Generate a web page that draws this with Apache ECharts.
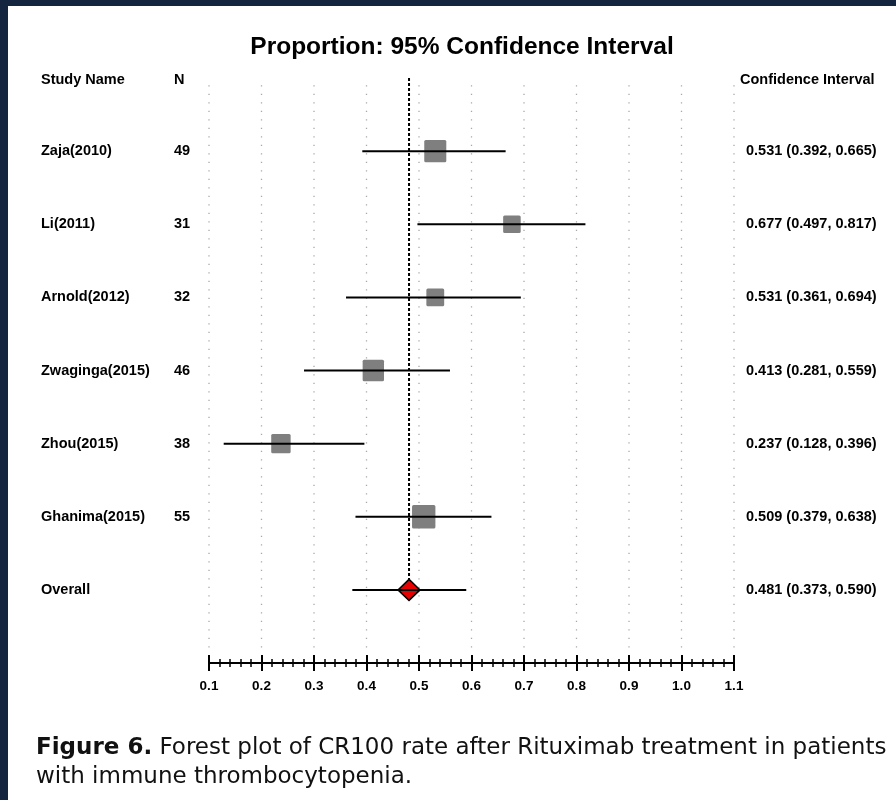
<!DOCTYPE html>
<html><head><meta charset="utf-8">
<script src="https://cdn.jsdelivr.net/npm/echarts@6/dist/echarts.min.js"></script>
<style>html,body{margin:0;padding:0;background:#fff}#c{width:896px;height:800px}</style>
</head><body><div id="c"></div>
<script>
var studies = ["Zaja(2010)", "Li(2011)", "Arnold(2012)", "Zwaginga(2015)", "Zhou(2015)", "Ghanima(2015)"];
var sampleN = [49, 31, 32, 46, 38, 55];
var estimate = [0.531, 0.677, 0.531, 0.413, 0.237, 0.509];
var lower = [0.392, 0.497, 0.361, 0.281, 0.128, 0.379];
var upper = [0.665, 0.817, 0.694, 0.559, 0.396, 0.638];
var overallName = "Overall";
var overallEst = 0.481, overallLo = 0.373, overallHi = 0.590;
var gridTicks = [0.1, 0.2, 0.3, 0.4, 0.5, 0.6, 0.7, 0.8, 0.9, 1.0, 1.1];

var FONT = "'Liberation Sans', Arial, sans-serif";
var CAPFONT = "'DejaVu Sans', sans-serif";
var chart = echarts.init(document.getElementById('c'), null, {renderer: 'canvas'});

var rowData = studies.map(function (s, i) {
  return [i, estimate[i], lower[i], upper[i], sampleN[i], s];
});

function ciText(e, l, h) {
  return e.toFixed(3) + ' (' + l.toFixed(3) + ', ' + h.toFixed(3) + ')';
}
function txt(x, y, s) {
  return {type: 'text', x: x, y: y, style: {text: s, font: 'bold 14.5px ' + FONT, fill: '#000', textVerticalAlign: 'middle', textAlign: 'left'}};
}

var option = {
  animation: false,
  backgroundColor: '#fff',
  grid: {left: 209, right: 162, top: 78, bottom: 137},
  xAxis: [{
    type: 'value', min: 0.1, max: 1.1, interval: 0.1, position: 'bottom',
    axisLine: {show: true, onZero: false, lineStyle: {color: '#000', width: 2}},
    axisTick: {show: true, length: 8, lineStyle: {color: '#000', width: 2}},
    minorTick: {show: true, splitNumber: 5, length: 4, lineStyle: {color: '#000', width: 1.5}},
    splitLine: {show: false},
    axisLabel: {margin: 16, color: '#000', fontFamily: FONT, fontWeight: 'bold', fontSize: 13.5,
      formatter: function (v) { return (+v).toFixed(1); }}
  }, {
    type: 'value', min: 0.1, max: 1.1, interval: 0.1, position: 'bottom',
    axisLine: {show: true, onZero: false, lineStyle: {color: '#000', width: 2}},
    axisTick: {show: true, inside: true, length: 8, lineStyle: {color: '#000', width: 2}},
    minorTick: {show: true, splitNumber: 5, length: 4, lineStyle: {color: '#000', width: 1.5}},
    splitLine: {show: false}, axisLabel: {show: false}
  }],
  yAxis: {type: 'value', inverse: true, min: -1, max: 7, show: false, splitLine: {show: false}},
  series: [
    { // dotted gridlines
      type: 'custom', coordinateSystem: 'cartesian2d', silent: true, z: 1,
      data: gridTicks.map(function (t) { return [t]; }),
      renderItem: function (params, api) {
        var p1 = api.coord([api.value(0), -0.9]);
        var p2 = api.coord([api.value(0), 6.85]);
        return {type: 'line', shape: {x1: p1[0], y1: p1[1], x2: p2[0], y2: p2[1]},
          style: {stroke: '#a8a8a8', lineWidth: 1.3, lineDash: [1.3, 7.2]}};
      }
    },
    { // overall dashed reference line
      type: 'custom', coordinateSystem: 'cartesian2d', silent: true, z: 2,
      data: [[overallEst]],
      renderItem: function (params, api) {
        var p1 = api.coord([api.value(0), -1]);
        var p2 = api.coord([api.value(0), studies.length]);
        return {type: 'line', shape: {x1: p1[0], y1: p1[1], x2: p2[0], y2: p2[1]},
          style: {stroke: '#000', lineWidth: 2, lineDash: [3, 2]}};
      }
    },
    { // study rows
      type: 'custom', coordinateSystem: 'cartesian2d', silent: true, z: 3,
      data: rowData,
      encode: {x: [1, 2, 3], y: 0},
      renderItem: function (params, api) {
        var i = api.value(0), e = api.value(1), l = api.value(2), h = api.value(3), n = api.value(4);
        var pc = api.coord([e, i]), pl = api.coord([l, i]), ph = api.coord([h, i]);
        var sz = 3.15 * Math.sqrt(n);
        return {type: 'group', children: [
          {type: 'rect', shape: {x: pc[0] - sz / 2, y: pc[1] - sz / 2, width: sz, height: sz, r: 1.5},
            style: {fill: '#7f7f7f'}},
          {type: 'line', shape: {x1: pl[0], y1: pl[1], x2: ph[0], y2: ph[1]}, style: {stroke: '#000', lineWidth: 2}},
          txt(41, pc[1], studies[params.dataIndex]),
          txt(174, pc[1], String(n)),
          txt(746, pc[1], ciText(e, l, h))
        ]};
      }
    },
    { // overall diamond
      type: 'custom', coordinateSystem: 'cartesian2d', silent: true, z: 4,
      data: [[studies.length, overallEst, overallLo, overallHi]],
      encode: {x: [1, 2, 3], y: 0},
      renderItem: function (params, api) {
        var i = api.value(0), e = api.value(1), l = api.value(2), h = api.value(3);
        var pc = api.coord([e, i]), pl = api.coord([l, i]), ph = api.coord([h, i]);
        var hw = 11, hh = 10.5;
        return {type: 'group', children: [
          {type: 'polygon', shape: {points: [[pc[0], pc[1] - hh], [pc[0] + hw, pc[1]], [pc[0], pc[1] + hh], [pc[0] - hw, pc[1]]]},
            style: {fill: '#e60000', stroke: '#000', lineWidth: 1.5}},
          {type: 'line', shape: {x1: pl[0], y1: pl[1], x2: ph[0], y2: ph[1]}, style: {stroke: '#000', lineWidth: 2}},
          txt(41, pc[1], overallName),
          txt(746, pc[1], ciText(e, l, h))
        ]};
      }
    }
  ],
  graphic: [
    {type: 'rect', left: 0, top: 0, shape: {width: 896, height: 6}, style: {fill: '#13253f'}, z: 100},
    {type: 'rect', left: 0, top: 0, shape: {width: 8, height: 800}, style: {fill: '#13253f'}, z: 100},
    {type: 'text', x: 462, y: 47, style: {text: 'Proportion: 95% Confidence Interval', font: 'bold 24.5px ' + FONT, fill: '#000', textAlign: 'center', textVerticalAlign: 'middle'}},
    {type: 'text', x: 41, y: 80, style: {text: 'Study Name', font: 'bold 14.5px ' + FONT, fill: '#000', textVerticalAlign: 'middle'}},
    {type: 'text', x: 174, y: 80, style: {text: 'N', font: 'bold 14.5px ' + FONT, fill: '#000', textVerticalAlign: 'middle'}},
    {type: 'text', x: 740, y: 80, style: {text: 'Confidence Interval', font: 'bold 14.5px ' + FONT, fill: '#000', textVerticalAlign: 'middle'}},
    {type: 'text', x: 36, y: 748, style: {
      text: '{b|Figure 6.} Forest plot of CR100 rate after Rituximab treatment in patients',
      font: '23px ' + CAPFONT, fill: '#111', textVerticalAlign: 'middle',
      rich: {b: {fontWeight: 'bold', fontSize: 23, fontFamily: CAPFONT, fill: '#111'}}}},
    {type: 'text', x: 36, y: 777, style: {text: 'with immune thrombocytopenia.', font: '23px ' + CAPFONT, fill: '#111', textVerticalAlign: 'middle'}}
  ]
};
chart.setOption(option);
</script></body></html>
